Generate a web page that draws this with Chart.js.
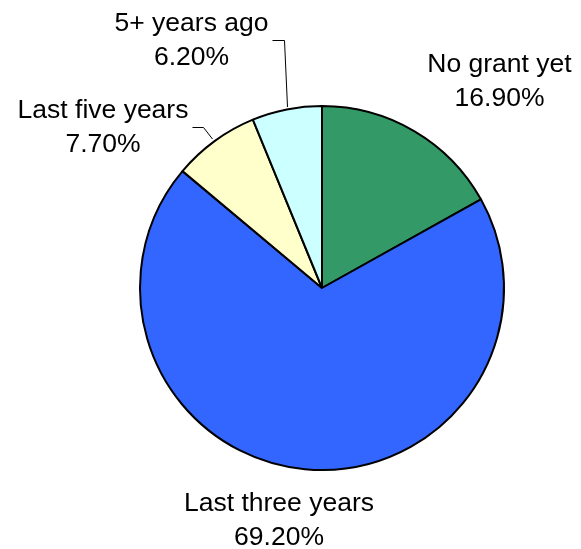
<!DOCTYPE html>
<html>
<head>
<meta charset="utf-8">
<script src="https://cdn.jsdelivr.net/npm/chart.js@4.4.1/dist/chart.umd.min.js"></script>
<style>
  html, body { margin: 0; padding: 0; background: #ffffff; }
  #wrap { width: 581px; height: 549px; position: relative; }
</style>
</head>
<body>
<div id="wrap"><canvas id="pie"></canvas></div>
<script>
// Share of respondents by when they last received a grant
const categories = ['No grant yet', 'Last three years', 'Last five years', '5+ years ago'];
const shares = [16.9, 69.2, 7.7, 6.2];
const sliceColors = ['#339966', '#3366FF', '#FFFFCC', '#CCFFFF'];

// Label placement: horizontal centre and first-line baseline, relative to the pie centre, in px
const labelSpots = [
  { dx: 177.5, dy: -216.5 },
  { dx: -43, dy: 222.5 },
  { dx: -219, dy: -170.5 },
  { dx: -130.5, dy: -257.5 }
];
const lineGap = 34.5;
// Leader lines (label end -> elbow -> slice edge), relative to the pie centre
const leaders = [
  null,
  null,
  [[-129.5, -160.5], [-118.5, -160.5], [-109.5, -149]],
  [[-49.5, -247.5], [-37.5, -247.5], [-34.5, -181]]
];

const labelPlugin = {
  id: 'sliceLabels',
  afterDraw(chart) {
    const ctx = chart.ctx;
    const arc = chart.getDatasetMeta(0).data[0];
    const cx = arc.x, cy = arc.y;
    ctx.save();
    ctx.font = '26.5px "Liberation Sans", Arial, sans-serif';
    ctx.fillStyle = '#000000';
    ctx.textAlign = 'center';
    ctx.textBaseline = 'alphabetic';
    categories.forEach((name, i) => {
      const p = labelSpots[i];
      const x = cx + p.dx, y = cy + p.dy;
      ctx.fillText(name, x, y);
      ctx.fillText(shares[i].toFixed(2) + '%', x, y + lineGap);
      const l = leaders[i];
      if (l) {
        ctx.beginPath();
        ctx.strokeStyle = '#000000';
        ctx.lineWidth = 1;
        ctx.moveTo(cx + l[0][0], cy + l[0][1]);
        for (let k = 1; k < l.length; k++) ctx.lineTo(cx + l[k][0], cy + l[k][1]);
        ctx.stroke();
      }
    });
    ctx.restore();
  }
};

new Chart(document.getElementById('pie'), {
  type: 'pie',
  data: {
    labels: categories,
    datasets: [{
      data: shares,
      backgroundColor: sliceColors,
      borderColor: '#000000',
      borderWidth: 2,
      borderAlign: 'center'
    }]
  },
  options: {
    responsive: true,
    maintainAspectRatio: false,
    animation: false,
    rotation: 0,
    layout: { padding: { left: 139, right: 76, top: 105, bottom: 78 } },
    plugins: {
      legend: { display: false },
      tooltip: { enabled: false }
    }
  },
  plugins: [labelPlugin]
});
</script>
</body>
</html>
